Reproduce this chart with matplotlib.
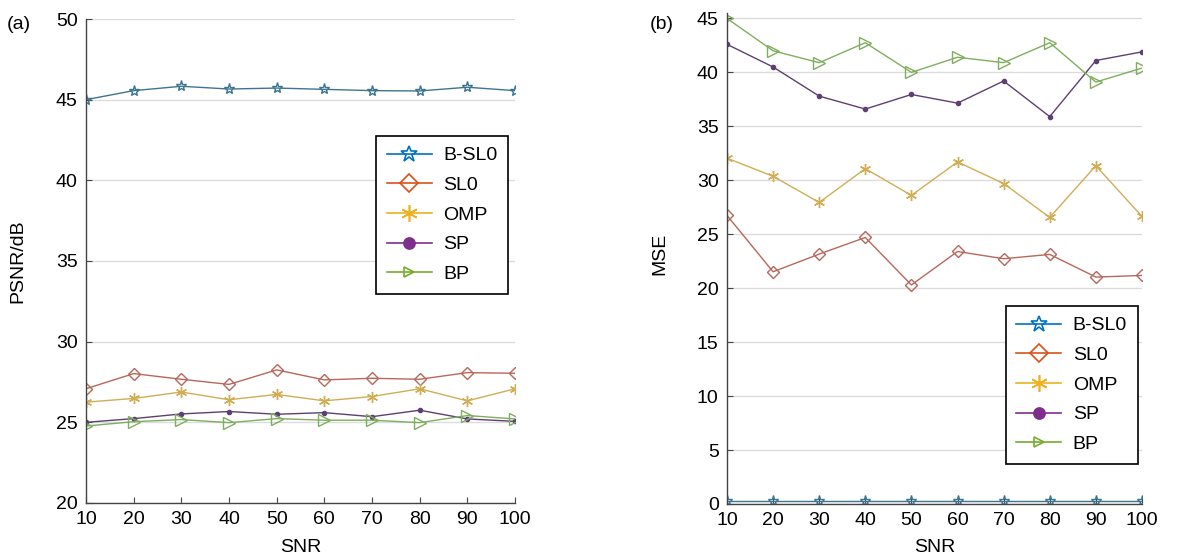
import matplotlib
matplotlib.use("Agg")
import matplotlib.pyplot as plt
from matplotlib.lines import Line2D

plt.rcParams['font.family'] = ['Liberation Sans', 'DejaVu Sans']

snr = [10, 20, 30, 40, 50, 60, 70, 80, 90, 100]
labels = ["B-SL0", "SL0", "OMP", "SP", "BP"]

psnr_bsl0 = [45.0, 45.56, 45.83, 45.66, 45.72, 45.64, 45.56, 45.54, 45.77, 45.56]
psnr_sl0 = [27.08, 28.02, 27.67, 27.35, 28.25, 27.63, 27.73, 27.67, 28.08, 28.04]
psnr_omp = [26.25, 26.48, 26.88, 26.40, 26.73, 26.33, 26.60, 27.08, 26.33, 27.08]
psnr_sp = [25.00, 25.23, 25.52, 25.67, 25.50, 25.60, 25.35, 25.75, 25.21, 25.06]
psnr_bp = [24.77, 25.04, 25.17, 24.98, 25.23, 25.13, 25.13, 24.98, 25.42, 25.21]

mse_bsl0 = [0.3, 0.3, 0.3, 0.3, 0.3, 0.3, 0.3, 0.3, 0.3, 0.3]
mse_sl0 = [26.75, 21.52, 23.16, 24.70, 20.30, 23.40, 22.73, 23.13, 21.03, 21.18]
mse_omp = [32.05, 30.37, 27.95, 31.08, 28.60, 31.70, 29.70, 26.56, 31.35, 26.65]
mse_sp = [42.60, 40.50, 37.80, 36.60, 37.95, 37.15, 39.20, 35.90, 41.10, 41.90]
mse_bp = [45.00, 42.00, 40.90, 42.75, 40.00, 41.40, 40.90, 42.75, 39.10, 40.40]

legend_colors = ["#0072BD", "#D95319", "#EDB120", "#7E2F8E", "#77AC30"]
line_colors = ["#3d7590", "#b8675a", "#d1ad55", "#5e3f72", "#7fae5e"]
asterisk = (6, 2, 0)
markers = ["*", "D", asterisk, "o", ">"]
mfill = ["none", "none", None, None, "none"]
msizes = [8, 6.5, 8, 3, 9]
leg_msizes = [12, 9, 12, 8, 7]

FS = 14

fig = plt.figure(figsize=(11.84, 5.59), dpi=100)
ax1 = fig.add_axes([0.0726, 0.1002, 0.3624, 0.8658])
ax2 = fig.add_axes([0.614, 0.0984, 0.3505, 0.8783])

def style(ax, ylim, yticks):
    ax.set_xlim(10, 100)
    ax.set_ylim(*ylim)
    ax.set_xticks(snr)
    ax.set_yticks(yticks)
    ax.yaxis.grid(True, color="#dcdcdc", linewidth=1.0)
    ax.set_axisbelow(True)
    for s in ["top", "right"]:
        ax.spines[s].set_visible(False)
    for s in ["left", "bottom"]:
        ax.spines[s].set_color("#444444")
        ax.spines[s].set_linewidth(1.0)
    ax.tick_params(axis="both", direction="in", length=4, labelsize=FS,
                   color="#444444", pad=6)
    ax.set_xlabel("SNR", fontsize=FS)
    ax.xaxis.label.set_va("center")

def draw(ax, series):
    for i, ys in enumerate(series):
        kw = dict(color=line_colors[i], marker=markers[i], markersize=msizes[i],
                  linewidth=1.0, markeredgewidth=1.0)
        if mfill[i] == "none":
            kw["markerfacecolor"] = "none"
        ax.plot(snr, ys, **kw)

def legend(ax, anchor):
    handles = []
    for i, lab in enumerate(labels):
        kw = dict(color=legend_colors[i], marker=markers[i], markersize=leg_msizes[i],
                  linewidth=1.2, markeredgewidth=1.2)
        if mfill[i] == "none":
            kw["markerfacecolor"] = "none"
        handles.append(Line2D([0], [0], **kw))
    lg = ax.legend(handles, labels, loc="upper right", bbox_to_anchor=anchor,
                   borderaxespad=0, fontsize=FS, handlelength=2.3,
                   labelspacing=0.62, fancybox=False, framealpha=1,
                   edgecolor="black", borderpad=0.55, handletextpad=0.6)
    lg.get_frame().set_linewidth(1.2)

style(ax1, (20, 50), [20, 25, 30, 35, 40, 45, 50])
draw(ax1, [psnr_bsl0, psnr_sl0, psnr_omp, psnr_sp, psnr_bp])
ax1.set_ylabel("PSNR/dB", fontsize=FS)
ax1.yaxis.label.set_va("center")
ax1.yaxis.set_label_coords(-0.158, 0.5)
ax1.xaxis.set_label_coords(0.5, -0.093)
legend(ax1, (0.984, 0.758))

style(ax2, (0, 45.5), [0, 5, 10, 15, 20, 25, 30, 35, 40, 45])
draw(ax2, [mse_bsl0, mse_sl0, mse_omp, mse_sp, mse_bp])
ax2.set_ylabel("MSE", fontsize=FS)
ax2.yaxis.label.set_va("center")
ax2.yaxis.set_label_coords(-0.161, 0.51)
ax2.xaxis.set_label_coords(0.5, -0.0896)
legend(ax2, (0.99, 0.403))

fig.text(0.006, 0.957, "(a)", fontsize=FS, va="center")
fig.text(0.549, 0.957, "(b)", fontsize=FS, va="center")

fig.savefig("out.png", dpi=100)
